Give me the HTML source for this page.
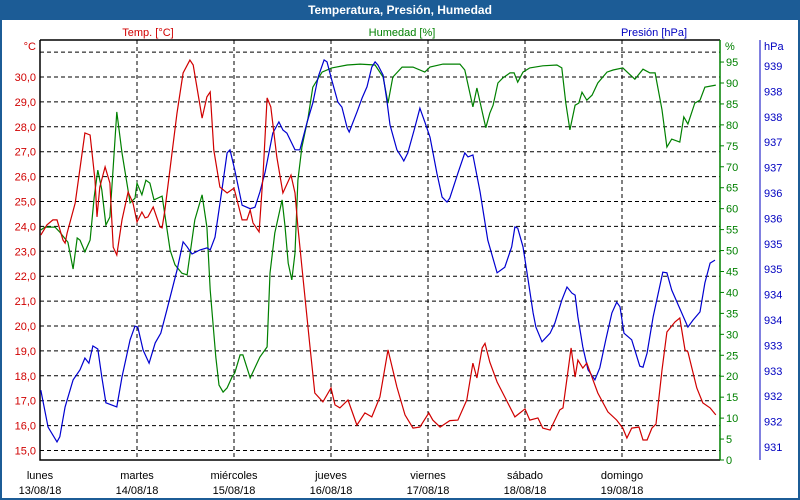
<!DOCTYPE html>
<html><head><meta charset="utf-8"><style>
body{margin:0;background:#fff;}
svg{display:block;font-family:"Liberation Sans",sans-serif;}
</style></head><body>
<svg id="chart" width="800" height="500" viewBox="0 0 800 500">
<rect x="0" y="0" width="800" height="500" fill="#1c5c96"/>
<rect x="2" y="20" width="796" height="478" fill="#fff"/>
<text x="400" y="14" text-anchor="middle" font-size="12" font-weight="bold" fill="#fff">Temperatura, Presión, Humedad</text>
<text x="148" y="36" text-anchor="middle" font-size="11" fill="#d00000">Temp. [°C]</text>
<text x="402" y="36" text-anchor="middle" font-size="11" fill="#008000">Humedad [%]</text>
<text x="654" y="36" text-anchor="middle" font-size="11" fill="#0000c0">Presión [hPa]</text>
<text x="36" y="50" text-anchor="end" font-size="11" fill="#d00000">°C</text>
<text x="725" y="50" font-size="11" fill="#008000">%</text>
<text x="764" y="50" font-size="11" fill="#0000c0">hPa</text>
<g id="grid"></g><g id="axes"></g><g id="series"></g>
</svg>
<script>
const dayNames=["lunes","martes","miércoles","jueves","viernes","sábado","domingo"];
const dayDates=["13/08/18","14/08/18","15/08/18","16/08/18","17/08/18","18/08/18","19/08/18"];
const tempTicks=[15,16,17,18,19,20,21,22,23,24,25,26,27,28,29,30,31];
const humTicks=[0,5,10,15,20,25,30,35,40,45,50,55,60,65,70,75,80,85,90,95];
const presTicks=[931,931.5,932,932.5,933,933.5,934,934.5,935,935.5,936,936.5,937,937.5,938,938.5];
const tempHours=[0.2,1.7,3.2,4.2,5.7,6.2,6.7,8.7,11.1,12.4,13.6,14.1,14.8,16.1,17.3,18.1,19.0,20.3,21.8,23.0,24.0,25.2,26.0,26.7,28.0,29.7,30.2,30.9,33.9,35.4,37.1,37.9,40.1,41.3,42.1,43.0,44.5,46.3,48.0,50.0,51.2,52.0,52.7,54.2,55.2,56.2,57.1,58.6,60.1,62.1,63.1,63.8,64.8,66.8,68.0,70.0,72.0,73.0,74.2,76.2,78.4,80.4,82.1,84.1,86.1,88.3,90.3,92.3,94.0,96.2,97.2,99.0,101.4,103.4,105.6,107.1,108.1,109.4,110.1,111.3,113.1,115.0,117.5,120.0,121.2,123.2,124.4,126.2,128.6,129.4,131.4,132.4,133.1,134.3,135.3,138.0,140.5,142.7,144.2,145.2,146.4,148.2,149.2,150.2,151.4,152.4,153.9,155.1,157.1,158.3,159.6,160.3,162.5,164.0,165.8,167.2];
const tempValues=[23.65,24.06,24.26,24.26,23.45,23.33,23.73,24.94,27.75,27.67,25.86,24.38,25.58,26.39,25.74,23.17,22.85,24.26,25.38,24.94,24.18,24.58,24.34,24.38,24.78,23.98,23.94,24.66,28.55,30.16,30.68,30.48,28.35,29.2,29.4,27.07,25.58,25.34,25.54,24.26,24.26,24.66,24.14,23.78,26.1,29.16,28.8,26.79,25.34,26.06,25.34,23.98,22.37,19.16,17.31,16.95,17.51,16.83,16.71,17.03,16.02,16.51,16.35,17.15,19.04,17.55,16.43,15.9,15.94,16.51,16.22,15.94,16.2,16.22,17.03,18.51,17.91,19.12,19.3,18.55,17.75,17.15,16.35,16.67,16.22,16.31,15.9,15.82,16.63,16.71,19.12,17.95,18.63,18.31,18.51,17.31,16.55,16.22,15.9,15.5,15.9,15.94,15.42,15.42,15.9,16.06,18.23,19.76,20.16,20.32,19.04,18.96,17.51,16.91,16.71,16.43];
const humHours=[0.2,1.2,3.7,4.9,6.9,8.2,9.2,9.9,11.1,12.4,13.4,14.3,15.3,16.3,17.3,18.1,19.0,20.3,22.3,23.5,24.0,25.2,26.2,27.2,28.2,30.2,32.2,33.4,35.1,36.4,38.3,40.1,41.3,42.1,43.5,44.3,45.3,46.3,47.5,48.2,49.5,50.2,52.0,54.4,56.2,56.9,58.1,59.9,60.6,61.4,62.3,63.1,63.8,64.8,66.3,67.5,69.8,72.2,76.0,79.2,82.9,84.9,86.1,87.3,89.6,92.3,95.2,96.5,99.7,103.9,105.1,107.1,108.1,110.3,111.3,112.1,113.3,114.5,116.3,117.3,118.2,119.5,121.2,124.4,127.9,129.1,130.1,131.1,132.4,133.3,134.1,135.3,136.6,138.0,140.3,141.8,144.2,145.5,147.2,149.2,150.9,152.2,153.9,155.1,156.3,158.3,159.3,160.3,162.0,163.3,164.5,167.2];
const humValues=[54.9,55.6,55.6,54.4,52.0,45.6,53.0,52.5,49.7,52.5,62.8,69.2,64.5,56.1,58.0,69.9,83.1,73.3,61.4,62.5,66.1,63.3,66.8,66.1,62.1,63.0,50.1,46.6,44.6,44.2,57.3,63.3,55.6,40.6,24.6,17.9,16.2,17.2,19.8,20.8,25.1,25.1,19.6,24.6,27.0,44.6,54.2,62.1,56.1,47.0,43.0,49.4,66.8,74.7,81.6,89.0,92.6,93.6,94.3,94.5,94.3,91.4,85.2,91.4,93.8,93.8,92.6,93.8,94.5,94.5,93.1,84.3,88.8,79.3,82.8,84.7,90.0,91.2,92.4,92.4,90.2,92.6,93.6,94.1,94.3,93.6,85.2,78.8,84.7,85.2,87.8,85.9,87.1,90.0,92.6,93.1,93.6,92.4,90.9,93.3,92.4,92.4,83.6,74.7,76.6,75.9,81.9,80.2,85.2,85.9,89.0,89.5];
const presHours=[0.2,2.0,4.2,4.9,6.2,8.2,9.9,11.1,12.1,13.1,14.3,15.3,16.3,19.0,20.3,22.3,23.5,24.2,25.5,27.0,28.5,29.9,31.4,33.9,35.4,36.4,37.6,39.6,41.3,42.1,43.3,45.0,46.3,47.0,48.2,50.0,52.0,53.2,54.4,55.7,57.6,59.1,60.1,61.1,63.1,64.3,66.1,67.5,68.8,70.3,71.0,72.2,73.7,74.7,76.0,76.5,78.4,79.7,80.9,82.1,82.9,83.6,84.9,85.8,86.6,88.3,89.6,90.0,91.0,92.7,94.0,95.2,96.5,98.2,99.5,100.7,101.4,103.4,105.1,105.9,107.1,108.9,110.8,113.1,115.0,116.7,117.5,118.2,119.5,120.7,122.0,122.7,124.2,126.2,127.4,129.1,130.4,131.6,132.4,133.1,134.3,135.6,137.3,138.5,140.0,141.5,142.7,143.5,144.5,146.4,147.7,148.4,149.2,150.2,151.7,154.1,155.1,156.3,160.3,161.6,163.3,164.5,165.8,167.0];
const presValues=[932.12,931.39,931.10,931.20,931.79,932.32,932.52,932.75,932.65,932.99,932.93,932.38,931.87,931.79,932.38,933.11,933.38,933.36,932.91,932.65,933.05,933.24,933.70,934.48,935.04,934.94,934.80,934.88,934.92,934.88,935.13,936.06,936.79,936.85,936.45,935.76,935.69,935.72,936.02,936.41,937.18,937.40,937.24,937.18,936.85,936.85,937.40,937.77,938.28,938.62,938.58,938.22,937.79,937.69,937.28,937.20,937.59,937.87,938.09,938.48,938.58,938.52,938.32,937.83,937.34,936.85,936.69,936.63,936.79,937.28,937.67,937.40,937.10,936.39,935.92,935.82,935.90,936.39,936.79,936.71,936.75,936.02,935.07,934.43,934.54,934.94,935.33,935.31,934.94,934.33,933.64,933.36,933.07,933.24,933.44,933.89,934.15,934.03,933.99,933.56,932.97,932.52,932.32,932.56,933.11,933.64,933.85,933.76,933.24,933.11,932.77,932.59,932.57,932.85,933.56,934.44,934.43,934.09,933.36,933.50,933.66,934.23,934.62,934.68];

const NS="http://www.w3.org/2000/svg";
const L=40,R=720,T=40,B=460;
function xS(h){return L+h*97/24;}
function yT(v){return 77+(30-v)*24.9;}
function yH(v){return 460-v*4.189;}
function yP(v){return 447-(v-931)*50.8;}
function mk(tag,attrs,parent){const e=document.createElementNS(NS,tag);for(const k in attrs)e.setAttribute(k,attrs[k]);parent.appendChild(e);return e;}
const grid=document.getElementById('grid'),axes=document.getElementById('axes'),series=document.getElementById('series');
tempTicks.forEach(v=>{
  const y=yT(v);
  const ln=mk('line',{x1:L,x2:R,y1:y,y2:y,stroke:'#000','stroke-dasharray':'4,3','stroke-width':1},grid);
  
  
  if(v<=30){
    const t=mk('text',{x:36,y:y+4,'text-anchor':'end','font-size':11,fill:'#d00000'},axes);
    t.textContent=v.toFixed(1).replace('.',',');
    
    
  }
});
dayNames.forEach((d,i)=>{
  const x=xS(i*24);
  if(i>0){
    const ln=mk('line',{x1:x,x2:x,y1:T,y2:B,stroke:'#000','stroke-dasharray':'4,3'},grid);
    
    
  }
  const t1=mk('text',{x:x,y:479,'text-anchor':'middle','font-size':11,fill:'#000'},axes);
  t1.textContent=d;
  
  
  const t2=mk('text',{x:x,y:494,'text-anchor':'middle','font-size':11,fill:'#000'},axes);
  t2.textContent=dayDates[i];
  
  
});
const fr=mk('path',{d:`M${L},${T}H${R}M${L},${T}V${B}H${R}`,stroke:'#000',fill:'none','stroke-width':1.5},axes);


const ha=mk('line',{x1:R,x2:R,y1:T,y2:B,stroke:'#008000','stroke-width':1.5},axes);


humTicks.forEach(v=>{
  const y=yH(v);
  const tk=mk('line',{x1:R,x2:R+4,y1:y,y2:y,stroke:'#008000'},axes);
  
  
  const t=mk('text',{x:R+6,y:y+4,'font-size':11,fill:'#008000'},axes);
  t.textContent=v;
  
  
});
const pa=mk('line',{x1:760,x2:760,y1:T,y2:B,stroke:'#0000c0','stroke-width':1},axes);


presTicks.forEach(v=>{
  const y=yP(v);
  const t=mk('text',{x:764,y:y+4,'font-size':11,fill:'#0000c0'},axes);
  t.textContent=Math.round(v);
  
  
});
function line(hs,vs,yf,col,name){
  const d=hs.map((h,i)=>(i?'L':'M')+xS(h).toFixed(1)+','+yf(vs[i]).toFixed(1)).join('');
  const p=mk('path',{d:d,stroke:col,fill:'none','stroke-width':1.2},series);
  
  
}
line(humHours,humValues,yH,'#008000','humidity-line');
line(presHours,presValues,yP,'#0000d0','pressure-line');
line(tempHours,tempValues,yT,'#d00000','temperature-line');
</script>
</body></html>
